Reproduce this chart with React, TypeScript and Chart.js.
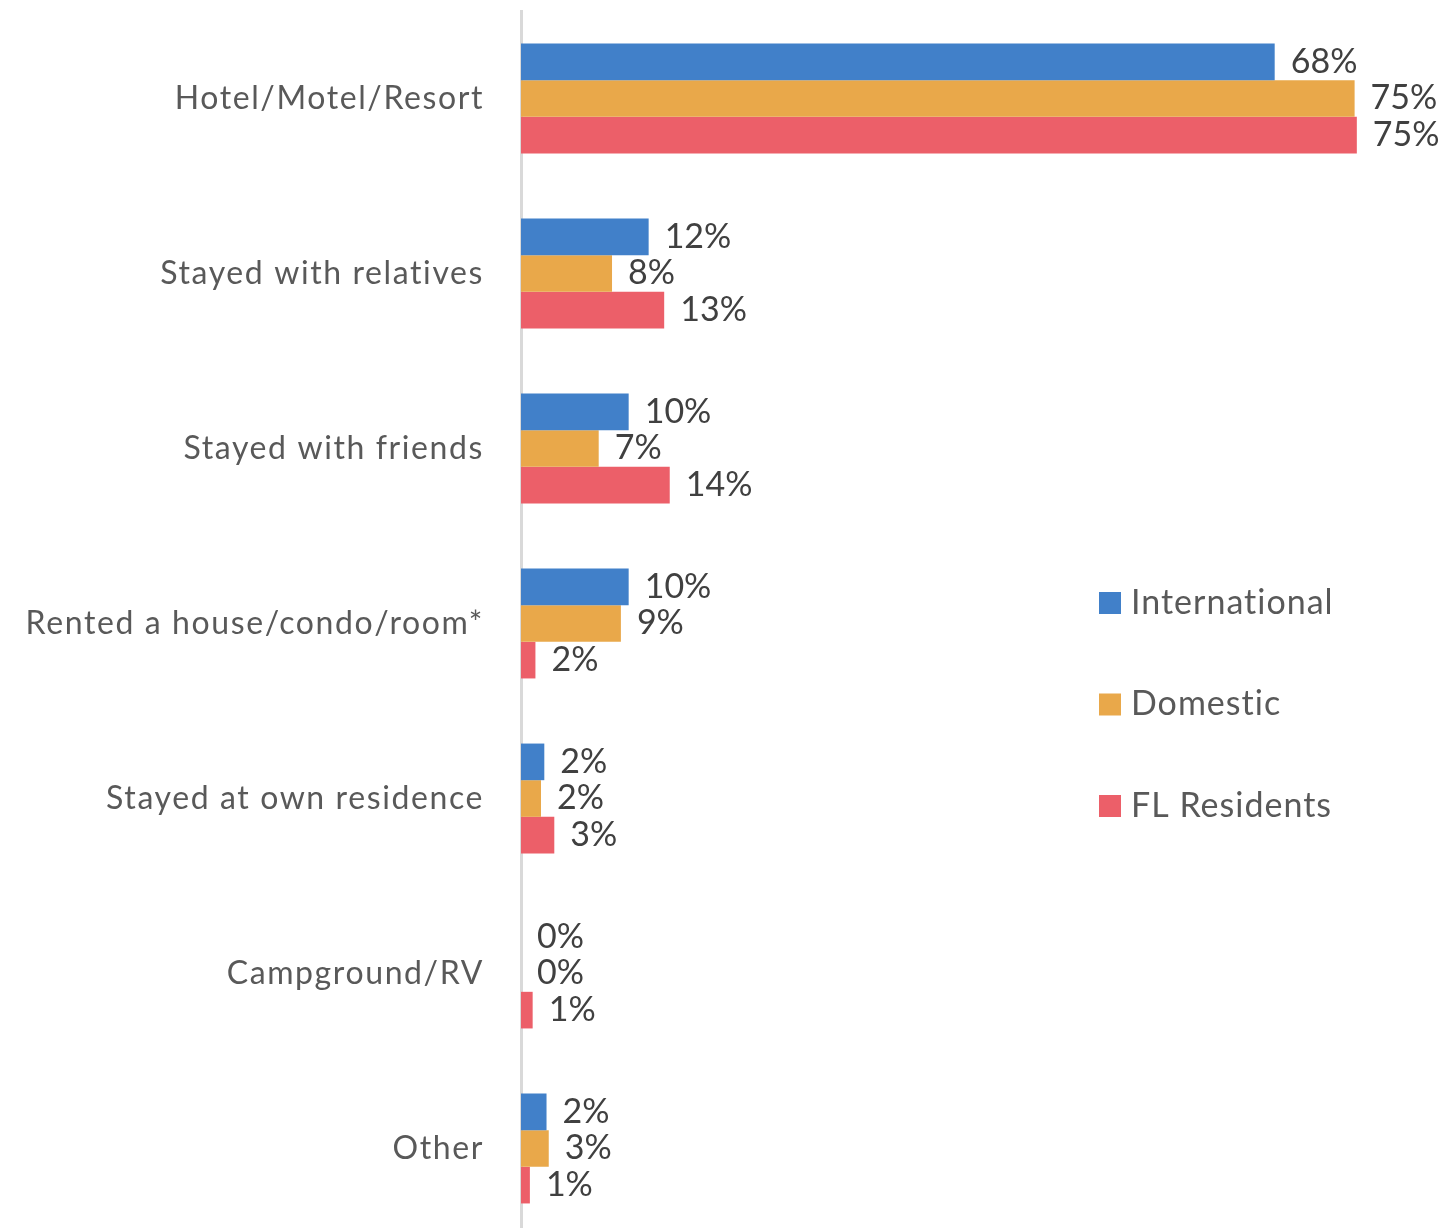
import React, { useEffect, useRef } from "react";
import { Chart, registerables } from "chart.js";

Chart.register(...registerables);

const categories = [
  "Hotel/Motel/Resort",
  "Stayed with relatives",
  "Stayed with friends",
  "Rented a house/condo/room*",
  "Stayed at own residence",
  "Campground/RV",
  "Other",
];

const seriesNames = ["International", "Domestic", "FL Residents"];
const seriesColors = ["#4180C9", "#E9A84A", "#EC5F69"];

// bar lengths (percent)
const international = [67.9, 11.5, 9.7, 9.7, 2.1, 0, 2.3];
const domestic = [75.1, 8.2, 7.0, 9.0, 1.8, 0, 2.5];
const flResidents = [75.3, 12.9, 13.4, 1.3, 3.0, 1.05, 0.8];

// data labels as printed in the picture
const internationalLabels = ["68%", "12%", "10%", "10%", "2%", "0%", "2%"];
const domesticLabels = ["75%", "8%", "7%", "9%", "2%", "0%", "3%"];
const flResidentsLabels = ["75%", "13%", "14%", "2%", "3%", "1%", "1%"];

const xMax = 80;

const FONT = "Lato, 'Open Sans', sans-serif";

export default function App() {
  const ref = useRef<HTMLCanvasElement | null>(null);

  useEffect(() => {
    const canvas = ref.current;
    if (!canvas) return;
    const allLabels = [internationalLabels, domesticLabels, flResidentsLabels];
    const series = [international, domestic, flResidents];

    const spacingPlugin = {
      id: "tickSpacing",
      beforeDraw(chart: any) {
        chart.ctx.letterSpacing = "1.6px";
      },
      beforeDatasetsDraw(chart: any) {
        chart.ctx.letterSpacing = "0px";
      },
    };

    const valueLabelPlugin = {
      id: "valueLabels",
      afterDatasetsDraw(chart: any) {
        const ctx = chart.ctx;
        ctx.save();
        ctx.letterSpacing = "0px";
        ctx.font = `34px ${FONT}`;
        ctx.fillStyle = "#404040";
        ctx.textAlign = "left";
        ctx.textBaseline = "middle";
        chart.data.datasets.forEach((_: any, di: number) => {
          const meta = chart.getDatasetMeta(di);
          meta.data.forEach((el: any, i: number) => {
            ctx.fillText(allLabels[di][i], el.x + 16, el.y);
          });
        });
        ctx.restore();
      },
    };

    const legendPlugin = {
      id: "sideLegend",
      afterDraw(chart: any) {
        const ctx = chart.ctx;
        ctx.save();
        ctx.letterSpacing = "1px";
        ctx.font = `34px ${FONT}`;
        ctx.textAlign = "left";
        ctx.textBaseline = "middle";
        chart.data.datasets.forEach((ds: any, di: number) => {
          const cy = 603 + di * 101.5;
          ctx.fillStyle = ds.backgroundColor;
          ctx.fillRect(1099, cy - 11, 22, 22);
          ctx.fillStyle = "#595959";
          ctx.fillText(ds.label, 1131, cy);
        });
        ctx.restore();
      },
    };

    const chart = new Chart(canvas, {
      type: "bar",
      data: {
        labels: categories,
        datasets: seriesNames.map((name, i) => ({
          label: name,
          data: series[i],
          backgroundColor: seriesColors[i],
          borderWidth: 0,
          categoryPercentage: 0.628,
          barPercentage: 1,
        })),
      },
      options: {
        indexAxis: "y",
        responsive: false,
        animation: false,
        layout: { padding: { top: 11, bottom: 0, left: 0, right: 41 } },
        plugins: {
          legend: { display: false },
          tooltip: { enabled: false },
        },
        scales: {
          x: {
            display: false,
            min: 0,
            max: xMax,
          },
          y: {
            grid: { display: false, drawTicks: false },
            border: { display: true, color: "#D9D9D9", width: 3 },
            ticks: {
              color: "#595959",
              font: { family: FONT, size: 32 },
              padding: 37,
            },
            afterFit(scale: any) {
              scale.width = 521;
              scale.paddingTop = 0;
              scale.paddingBottom = 0;
            },
          },
        },
      },
      plugins: [spacingPlugin, valueLabelPlugin, legendPlugin],
    } as any);

    return () => chart.destroy();
  }, []);

  return (
    <div
      style={{
        position: "fixed",
        left: 0,
        top: 0,
        width: 1450,
        height: 1228,
        overflow: "hidden",
        background: "#ffffff",
      }}
    >
      <canvas
        ref={ref}
        width={1450}
        height={1236}
        style={{ display: "block", width: 1450, height: 1236 }}
      />
    </div>
  );
}
